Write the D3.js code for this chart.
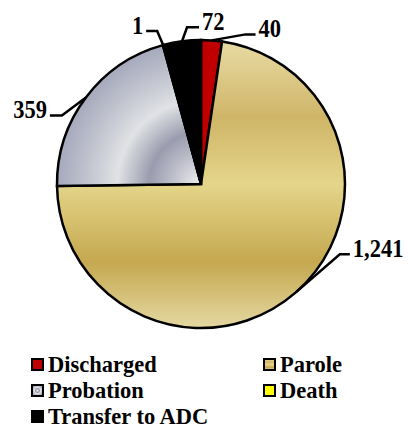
<!DOCTYPE html>
<html><head><meta charset="utf-8">
<script src="https://cdn.jsdelivr.net/npm/d3@7"></script>
<style>html,body{margin:0;padding:0;background:#fff;}svg{display:block;}</style>
</head><body>
<svg id="c" width="409" height="428"></svg>
<script>
const categories = ["Discharged", "Parole", "Probation", "Death", "Transfer to ADC"];
const values = [40, 1241, 359, 1, 72];
const valueLabels = ["40", "1,241", "359", "1", "72"];
const fills = ["#C00000", "url(#gold)", "url(#silver)", "#FFFF00", "#000000"];
const swatchFills = ["#C00000", "url(#goldS)", "url(#silverS)", "#FFFF00", "#000000"];
// leader-line elbows relative to the arc point: [dx, dy, horizontal run]
const leader = [[34, -6, 10], [44, -38, 10], [-24, 18, -12], [-6, -14, -11], [5, -14, 12]];

const svg = d3.select("#c");
const cx = 201, cy = 184, R = 144;
const defs = svg.append("defs");

function gold(id, units) {
  const g = defs.append("linearGradient").attr("id", id).attr("x1", 0).attr("x2", 0);
  if (units) { g.attr("gradientUnits", "userSpaceOnUse").attr("y1", -R).attr("y2", R); }
  else { g.attr("y1", 0).attr("y2", 1); }
  [[0, "#E8DCA4"], [0.27, "#CFB568"], [0.5, "#E4D58A"], [0.77, "#C5A84F"], [1, "#E4D8A2"]]
    .forEach(s => g.append("stop").attr("offset", s[0]).attr("stop-color", s[1]));
}
function silver(id, units) {
  const g = defs.append("radialGradient").attr("id", id);
  if (units) { g.attr("gradientUnits", "userSpaceOnUse").attr("cx", 0).attr("cy", 0).attr("r", R).attr("fx", 0).attr("fy", 0); }
  [[0, "#EEF0EF"], [0.18, "#C2C3CE"], [0.36, "#9A9CAE"], [0.58, "#E0E2E5"], [0.8, "#C0C2CE"], [1, "#A6A9BC"]]
    .forEach(s => g.append("stop").attr("offset", s[0]).attr("stop-color", s[1]));
}
gold("gold", true); gold("goldS", false);
silver("silver", true); silver("silverS", false);

const pie = d3.pie().sort(null).value(d => d)(values);
const arc = d3.arc().innerRadius(0).outerRadius(R);
const g = svg.append("g").attr("transform", `translate(${cx},${cy})`);

g.selectAll("path.slice").data(pie).join("path")
  .attr("class", "slice")
  .attr("d", arc)
  .attr("fill", (d, i) => fills[i])
  .attr("stroke", "#000").attr("stroke-width", 2.5).attr("stroke-linejoin", "miter");

const font = "'Liberation Serif','Times New Roman',serif";
pie.forEach((d, i) => {
  const a = (d.startAngle + d.endAngle) / 2;
  const x0 = R * Math.sin(a), y0 = -R * Math.cos(a);
  const [dx, dy, h] = leader[i];
  const x1 = x0 + dx, y1 = y0 + dy, x2 = x1 + h;
  g.append("polyline")
    .attr("points", `${x0},${y0} ${x1},${y1} ${x2},${y1}`)
    .attr("fill", "none").attr("stroke", "#000").attr("stroke-width", 2.5);
  g.append("text")
    .attr("transform", `translate(${x2 + (h > 0 ? 3 : -3)},${y1 + 3}) scale(1,1.1)`)
    .attr("text-anchor", h > 0 ? "start" : "end")
    .attr("font-family", font).attr("font-weight", "bold").attr("font-size", 22.5)
    .attr("fill", "#000")
    .text(valueLabels[i]);
});

// legend
const colX = [31, 263], rowY = [358, 384, 410];
const lg = svg.append("g");
categories.forEach((c, i) => {
  const col = i % 2, row = Math.floor(i / 2);
  lg.append("rect").attr("x", colX[col] + 1).attr("y", rowY[row] + 1)
    .attr("width", 11).attr("height", 11)
    .attr("fill", swatchFills[i]).attr("stroke", "#000").attr("stroke-width", 2);
  lg.append("text")
    .attr("transform", `translate(${colX[col] + 17},${rowY[row] + 14}) scale(1,1.05)`)
    .attr("font-family", font).attr("font-weight", "bold").attr("font-size", 22.5)
    .attr("fill", "#000").text(c);
});
</script>
</body></html>
